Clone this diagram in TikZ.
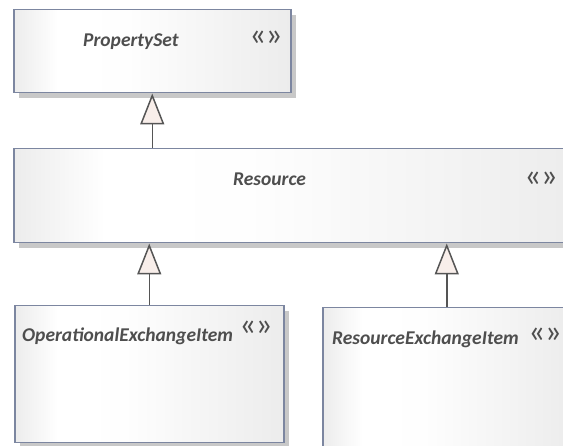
\documentclass[tikz,border=0pt]{standalone}
\usepackage{fontspec}
\setmainfont{Carlito}
\usepackage{xcolor}
\usepackage{tikz}
\usetikzlibrary{arrows.meta,positioning,shadows}
\definecolor{umledge}{RGB}{124,134,160}
\definecolor{umlshade}{RGB}{200,200,200}
\definecolor{umlline}{RGB}{85,85,85}
\definecolor{umltip}{RGB}{248,238,234}
\definecolor{umltext}{RGB}{78,78,78}
\definecolor{umlfill}{RGB}{236,236,236}
\pgfdeclarehorizontalshading{umlbox}{100bp}{color(0bp)=(umlfill); color(25bp)=(umlfill);
  color(33bp)=(white); color(45bp)=(white!96!umlfill); color(75bp)=(umlfill); color(100bp)=(umlfill)}

\begin{document}
\begin{tikzpicture}[x=1pt,y=-1pt,
  cls/.style={draw=umledge,line width=1.5pt,anchor=north west,inner sep=0pt,
    shading=umlbox,
    drop shadow={shadow xshift=5pt,shadow yshift=-5pt,fill=umlshade,opacity=1}},
  nm/.style={anchor=base west,inner sep=0pt,text=umltext,
    font=\fontsize{19.5}{22}\selectfont\bfseries\itshape},
  st/.style={inner sep=0pt,text=umltext,
    font=\fontsize{33}{35}\selectfont},
  gen/.style={-{Triangle[length=31pt,width=24pt,fill=umltip]},
    draw=umlline,line width=1.5pt}]
\useasboundingbox (0,0) rectangle (563,446);
\clip (0,0) rectangle (563,446);
\node[cls,minimum width=277pt,minimum height=83pt] (ps) at (13,9) {};
\node[cls,minimum width=570pt,minimum height=94pt] (res) at (13,148) {};
\node[cls,minimum width=269pt,minimum height=137pt] (oei) at (14,305) {};
\node[cls,minimum width=248pt,minimum height=142pt] (rei) at (322,307) {};
\node[nm] (psname) at (83,47) {PropertySet};
\node[st] (psster) at (266,38) {«\kern-0.5pt»};
\node[nm] (resname) at (233,186) {Resource};
\node[st] (resster) at (541,179) {«\kern-0.5pt»};
\node[nm] (oeiname) at (22,342) {OperationalExchangeItem};
\node[st] (oeister) at (256,328) {«\kern-0.5pt»};
\node[nm] (reiname) at (332,345) {ResourceExchangeItem};
\node[st] (reister) at (545,335) {«\kern-0.5pt»};
\draw[gen] (res.north -| ps.south) -- (ps.south);
\draw[gen] (oei.north) -- (oei.north |- res.south);
\draw[gen] (rei.north) -- (rei.north |- res.south);
\end{tikzpicture}
\end{document}
